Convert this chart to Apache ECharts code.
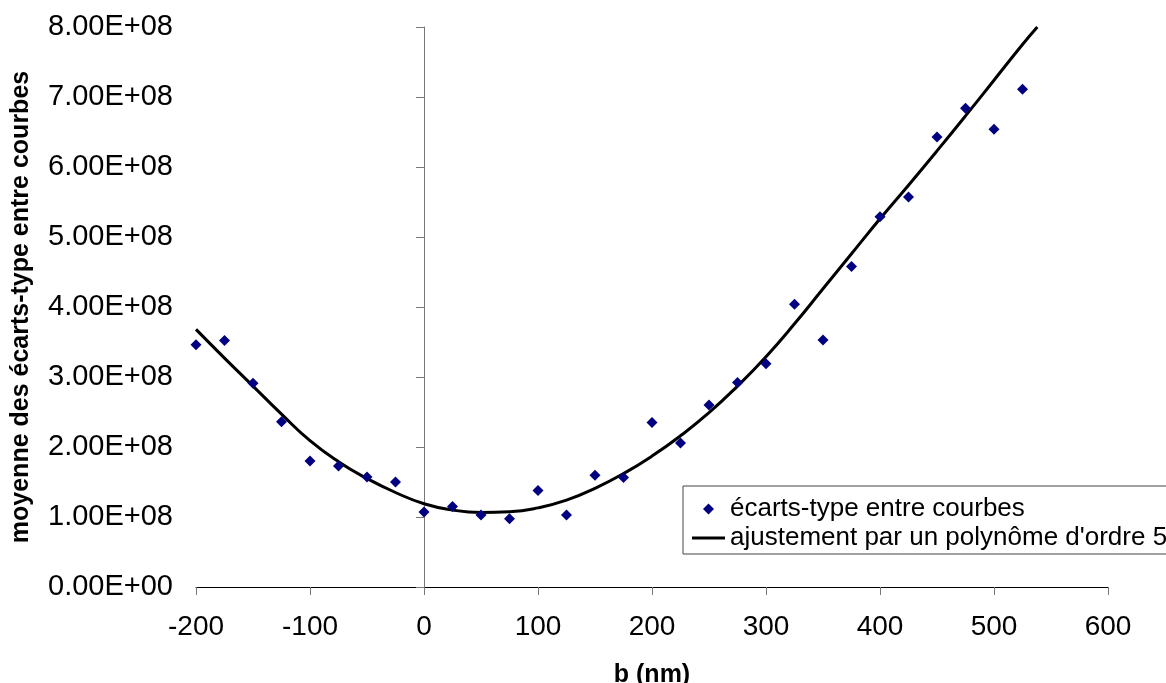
<!DOCTYPE html>
<html>
<head>
<meta charset="utf-8">
<script src="https://cdn.jsdelivr.net/npm/echarts@6/dist/echarts.min.js"></script>
<style>html,body{margin:0;padding:0;background:#fff;}#c{width:1166px;height:683px;}</style>
</head>
<body>
<div id="c"></div>
<script>
// Measured points (b in nm, value)
const bValues = [-200,-175,-150,-125,-100,-75,-50,-25,0,25,50,75,100,125,150,175,200,225,250,275,300,325,350,375,400,425,450,475,500,525];
const ecartValues = [3.46e8,3.52e8,2.91e8,2.36e8,1.80e8,1.73e8,1.57e8,1.50e8,1.07e8,1.15e8,1.03e8,0.975e8,1.38e8,1.03e8,1.595e8,1.566e8,2.35e8,2.056e8,2.60e8,2.92e8,3.19e8,4.04e8,3.53e8,4.58e8,5.29e8,5.57e8,6.43e8,6.84e8,6.54e8,7.11e8];
// Fitted curve
const fitB = [-200,-175,-150,-125,-100,-75,-50,-25,0,25,50,75,100,125,150,175,200,225,250,275,300,325,350,375,400,425,450,475,500,525,538];
const fitValues = [3.68e8,3.27e8,2.87e8,2.47e8,2.09e8,1.79e8,1.55e8,1.35e8,1.19e8,1.10e8,1.065e8,1.075e8,1.13e8,1.24e8,1.41e8,1.62e8,1.87e8,2.16e8,2.49e8,2.87e8,3.29e8,3.76e8,4.26e8,4.76e8,5.26e8,5.74e8,6.23e8,6.73e8,7.24e8,7.75e8,8.0e8];
const yTickLabels = ['0.00E+00','1.00E+08','2.00E+08','3.00E+08','4.00E+08','5.00E+08','6.00E+08','7.00E+08','8.00E+08'];
const seriesNames = ['écarts-type entre courbes', "ajustement par un polynôme d'ordre 5"];
const xTitle = 'b (nm)';
const yTitle = 'moyenne des écarts-type entre courbes';

const FONT = "'Liberation Sans', Arial, sans-serif";
const chart = echarts.init(document.getElementById('c'), null, {renderer: 'canvas'});
const yAxisCommon = {type: 'value', min: 0, max: 8e8, interval: 1e8, splitLine: {show: false}};
chart.setOption({
  animation: false,
  backgroundColor: '#fff',
  grid: {left: 196, right: 58, top: 27, bottom: 96, containLabel: false, outerBoundsMode: 'none'},
  legend: {
    orient: 'vertical', left: 683, top: 486,
    padding: [10, 9, 3, 9], itemGap: 3,
    itemWidth: 33, itemHeight: 11,
    backgroundColor: '#fff', borderColor: '#444', borderWidth: 1, borderRadius: 0,
    textStyle: {fontFamily: FONT, fontSize: 26, color: '#000'},
    data: [
      {name: seriesNames[0], icon: 'path://M0,-1L1,0L0,1L-1,0Z', itemStyle: {color: '#000080', opacity: 1}},
      {name: seriesNames[1], icon: 'path://M0,0H33V3H0Z', itemStyle: {color: '#000'}}
    ]
  },
  xAxis: {
    type: 'value', min: -200, max: 600, interval: 100,
    name: xTitle, nameLocation: 'middle', nameGap: 76,
    nameTextStyle: {fontFamily: FONT, fontSize: 25, fontWeight: 'bold', color: '#000'},
    axisLine: {onZero: false, lineStyle: {color: '#000', width: 1}},
    axisTick: {show: true, length: 8, inside: false, lineStyle: {color: '#777'}},
    axisLabel: {fontFamily: FONT, fontSize: 28, color: '#000', margin: 26},
    splitLine: {show: false}
  },
  yAxis: [
    Object.assign({}, yAxisCommon, {
      position: 'left',
      name: yTitle, nameLocation: 'middle', nameGap: 162,
      nameTextStyle: {fontFamily: FONT, fontSize: 25, fontWeight: 'bold', color: '#000'},
      axisLine: {show: false, onZero: false},
      axisTick: {show: false},
      axisLabel: {fontFamily: FONT, fontSize: 29, color: '#000', margin: 23,
        formatter: function (v) { return yTickLabels[Math.round(v / 1e8)]; }}
    }),
    Object.assign({}, yAxisCommon, {
      position: 'left',
      axisLine: {show: true, onZero: true, onZeroAxisIndex: 0, lineStyle: {color: '#777', width: 1}},
      axisTick: {show: true, length: 8, inside: false, lineStyle: {color: '#777'}},
      axisLabel: {show: false}
    })
  ],
  series: [
    {
      name: seriesNames[0], type: 'scatter', yAxisIndex: 0,
      symbol: 'diamond', symbolSize: 11,
      itemStyle: {color: '#000080', opacity: 1},
      data: bValues.map((b, i) => [b, ecartValues[i]]),
      z: 3
    },
    {
      name: seriesNames[1], type: 'line', yAxisIndex: 0,
      smooth: 0.5, showSymbol: false, symbol: 'none', clip: true,
      lineStyle: {color: '#000', width: 3},
      itemStyle: {color: '#000'},
      data: fitB.map((b, i) => [b, fitValues[i]]),
      z: 2
    }
  ]
});
</script>
</body>
</html>
